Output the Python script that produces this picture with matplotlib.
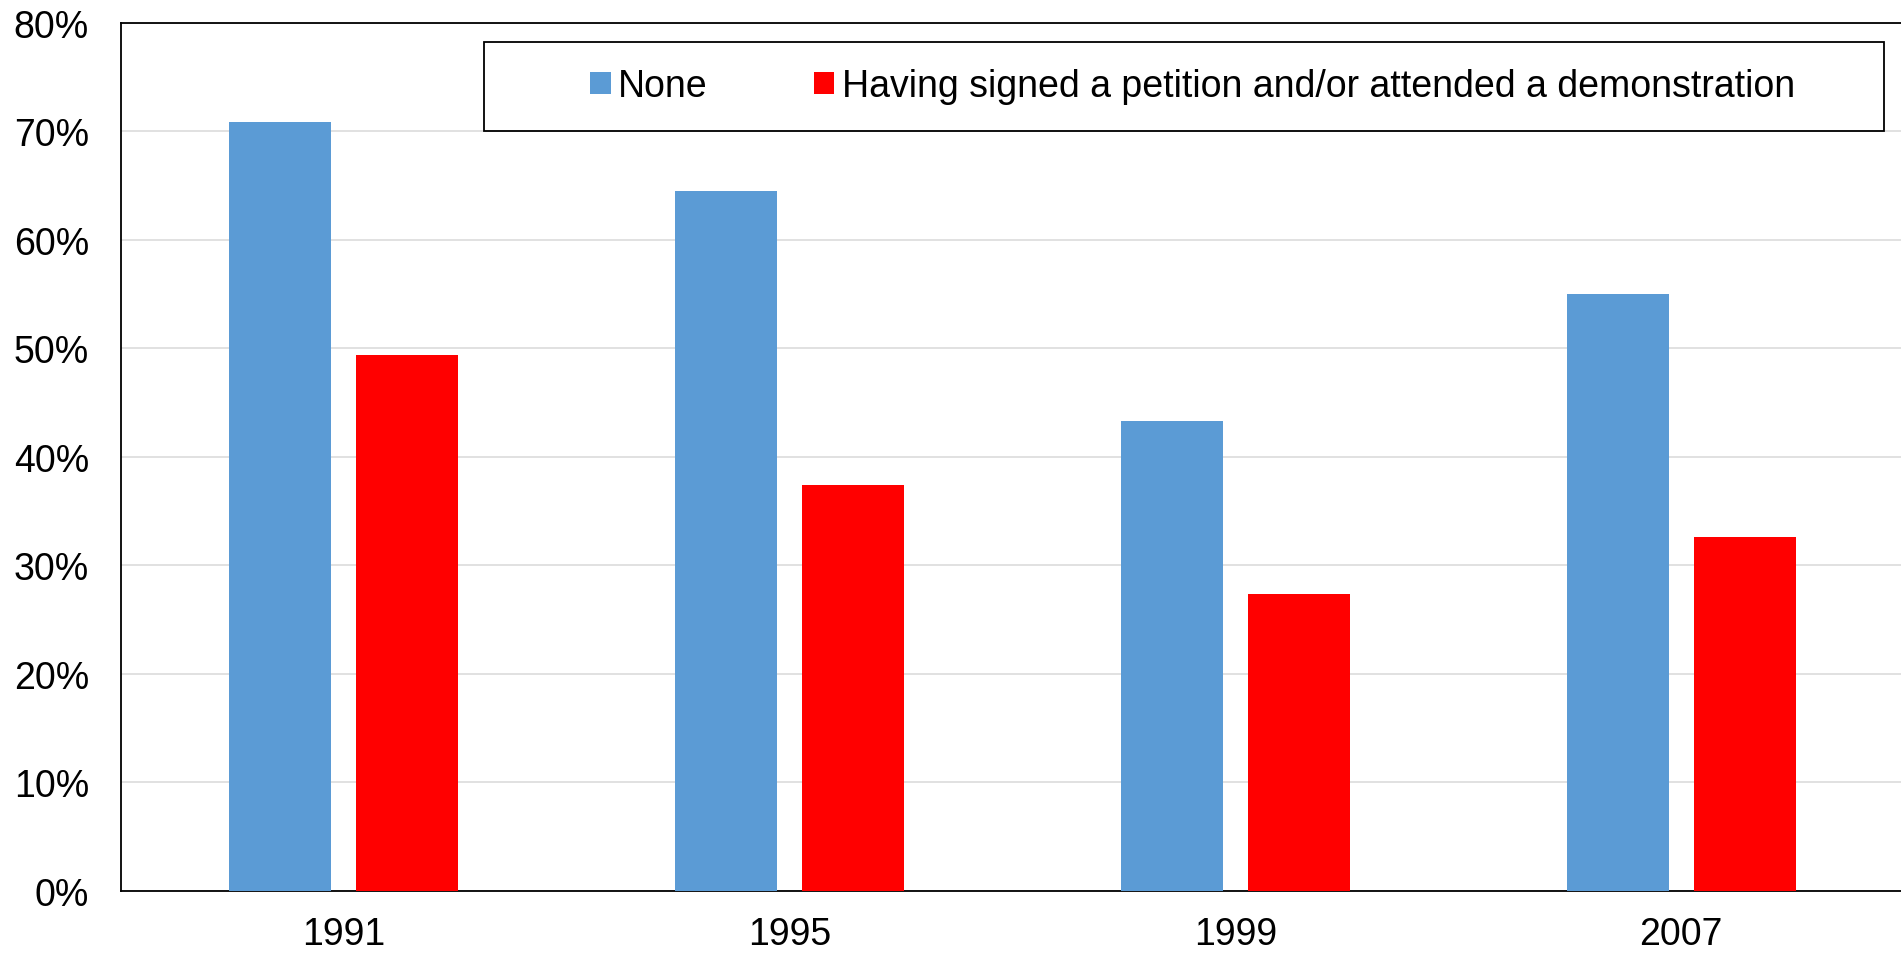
import numpy as np
import matplotlib
matplotlib.use("Agg")
import matplotlib.pyplot as plt
from matplotlib.patches import Patch, Rectangle

years = ["1991", "1995", "1999", "2007"]
none_vals = [70.9, 64.5, 43.3, 55.0]
petition_vals = [49.4, 37.4, 27.4, 32.6]
series_names = ["None", "Having signed a petition and/or attended a demonstration"]
yticks = [0, 10, 20, 30, 40, 50, 60, 70, 80]

blue = "#5B9BD5"
red = "#FF0000"

plt.rcParams['font.family'] = ['Liberation Sans', 'DejaVu Sans']

W, H = 1901, 954
fig = plt.figure(figsize=(W / 100, H / 100), dpi=100)
# plot area runs a little past the right edge of the picture
ax = fig.add_axes([121 / W, (H - 891.7) / H, (1904 - 121) / W, (891.7 - 24) / H])

x = np.arange(len(years))
bw = 0.229
off = 0.1425
ax.bar(x - off, none_vals, bw, color=blue, zorder=3)
ax.bar(x + off, petition_vals, bw, color=red, zorder=3)

ax.set_xlim(-0.5, len(years) - 0.5)
ax.set_ylim(0, 80)
ax.set_yticks(yticks)
ax.set_yticklabels([f"{v}%" for v in yticks])
ax.set_xticks(x)
ax.set_xticklabels(years)
ax.tick_params(axis="both", length=0, labelsize=27)
ax.tick_params(axis="y", pad=23)
ax.tick_params(axis="x", pad=18)

ax.yaxis.grid(True, color="#d9d9d9", linewidth=1.1, zorder=0)
ax.set_axisbelow(True)
for s in ax.spines.values():
    s.set_color("black")
    s.set_linewidth(1.3)

# legend box
fig.patches.append(Rectangle((484 / W, (H - 132) / H), (1884 - 484) / W, (132 - 42.7) / H,
                             transform=fig.transFigure, fill=False, edgecolor="black",
                             linewidth=1.3, zorder=5))
handles = [Patch(facecolor=blue, edgecolor="none", label=series_names[0]),
           Patch(facecolor=red, edgecolor="none", label=series_names[1])]
fig.legend(handles=handles, loc="center left", bbox_to_anchor=(590 / W, 1 - 87.4 / H),
           ncol=2, frameon=False, fontsize=27, handlelength=0.55, handleheight=0.55,
           handletextpad=0.2, columnspacing=2.82, borderpad=0, borderaxespad=0)

plt.savefig("out.png", dpi=100)
